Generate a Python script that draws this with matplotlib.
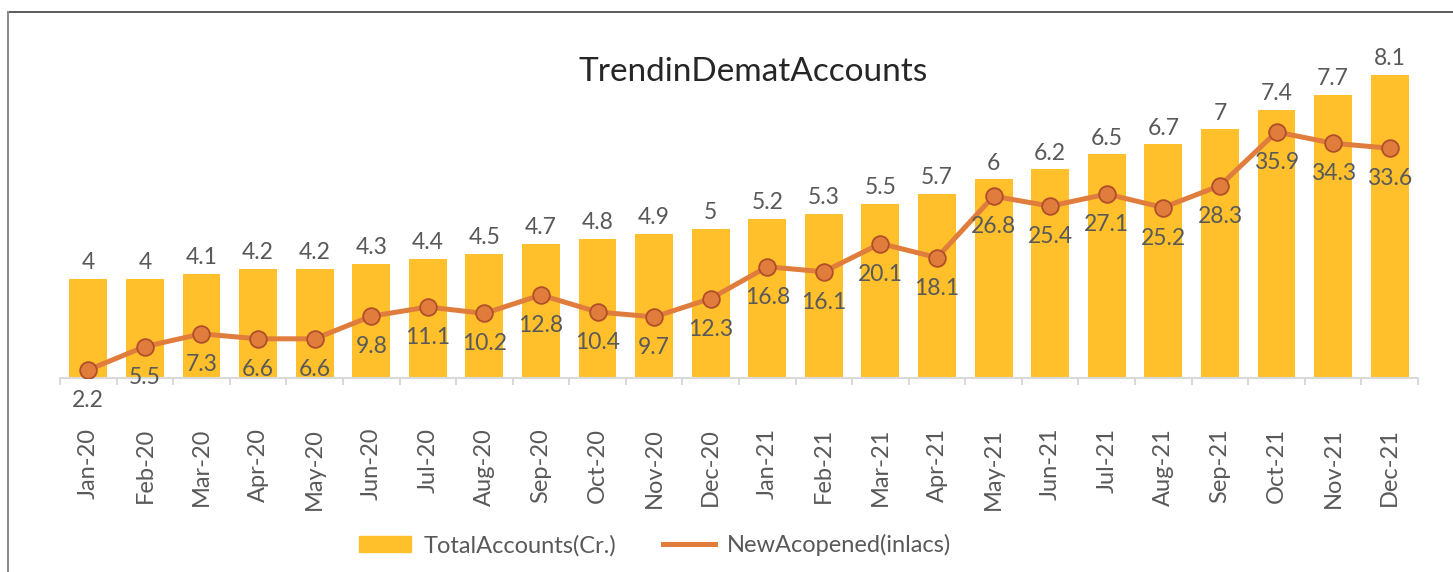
import matplotlib.pyplot as plt
from matplotlib.lines import Line2D
from matplotlib.patches import Patch

months = ['Jan-20', 'Feb-20', 'Mar-20', 'Apr-20', 'May-20', 'Jun-20', 'Jul-20', 'Aug-20',
          'Sep-20', 'Oct-20', 'Nov-20', 'Dec-20', 'Jan-21', 'Feb-21', 'Mar-21', 'Apr-21',
          'May-21', 'Jun-21', 'Jul-21', 'Aug-21', 'Sep-21', 'Oct-21', 'Nov-21', 'Dec-21']
total_accounts = [4, 4, 4.1, 4.2, 4.2, 4.3, 4.4, 4.5, 4.7, 4.8, 4.9, 5, 5.2, 5.3, 5.5,
                  5.7, 6, 6.2, 6.5, 6.7, 7, 7.4, 7.7, 8.1]
new_accounts = [2.2, 5.5, 7.3, 6.6, 6.6, 9.8, 11.1, 10.2, 12.8, 10.4, 9.7, 12.3, 16.8,
                16.1, 20.1, 18.1, 26.8, 25.4, 27.1, 25.2, 28.3, 35.9, 34.3, 33.6]

plt.rcParams['font.family'] = ['Lato', 'DejaVu Sans']
label_col = '#595959'
bar_col = '#FFC02B'
line_col = '#E07D3C'

fig = plt.figure(figsize=(14.53, 5.72), dpi=100)
ax = fig.add_axes([0.0413, 0.3392, 0.9346, 0.6084])
ax2 = ax.twinx()

x = list(range(len(months)))
ax.bar(x, total_accounts, width=0.67, color=bar_col, zorder=2)
ax.set_ylim(2, 9)
ax.set_xlim(-0.5, len(months) - 0.5)

for i, v in enumerate(total_accounts):
    ax.annotate('%g' % v, (i, v), xytext=(0, 4), textcoords='offset points',
                ha='center', va='bottom', fontsize=16.5, color=label_col)

ax2.plot(x, new_accounts, color=line_col, lw=3.6, marker='o', markersize=12,
         markerfacecolor=line_col, markeredgecolor='#B04E2A', markeredgewidth=1.3, zorder=3)
ax2.set_ylim(1.05, 50.35)
for i, v in enumerate(new_accounts):
    ax2.annotate('%g' % v, (i, v), xytext=(0, -22), textcoords='offset points',
                 ha='center', va='center', fontsize=16.5, color=label_col)

for a in (ax, ax2):
    for s in a.spines.values():
        s.set_visible(False)
    a.set_yticks([])
ax.spines['bottom'].set_visible(True)
ax.spines['bottom'].set_color('#D9D9D9')
ax.spines['bottom'].set_linewidth(1.5)

ax.set_xticks(x)
ax.set_xticklabels(months, rotation=90, fontsize=17, color=label_col)
ax.tick_params(axis='x', which='major', length=0, pad=36)
ax.set_xticks([i + 0.5 for i in range(-1, len(months))], minor=True)
ax.tick_params(axis='x', which='minor', length=5, width=1.5, color='#D9D9D9')

fig.text(0.518, 0.874, 'TrendinDematAccounts', ha='center', va='center',
         fontsize=24, color='#262626')

handles = [Patch(color=bar_col), Line2D([0], [0], color=line_col, lw=3.6)]
fig.legend(handles, ['TotalAccounts(Cr.)', 'NewAcopened(inlacs)'], ncol=2,
           loc='center', bbox_to_anchor=(0.451, 0.047), frameon=False,
           fontsize=17, labelcolor=label_col, handlelength=2.2, handletextpad=0.5,
           columnspacing=2)

fig.add_artist(Line2D([8 / 1453, 1], [1 - 12 / 572, 1 - 12 / 572], color='#404040', lw=1.2))
fig.add_artist(Line2D([8 / 1453, 8 / 1453], [0, 1 - 12 / 572], color='#8C8C8C', lw=1.5))

fig.savefig('out.png', dpi=100)
